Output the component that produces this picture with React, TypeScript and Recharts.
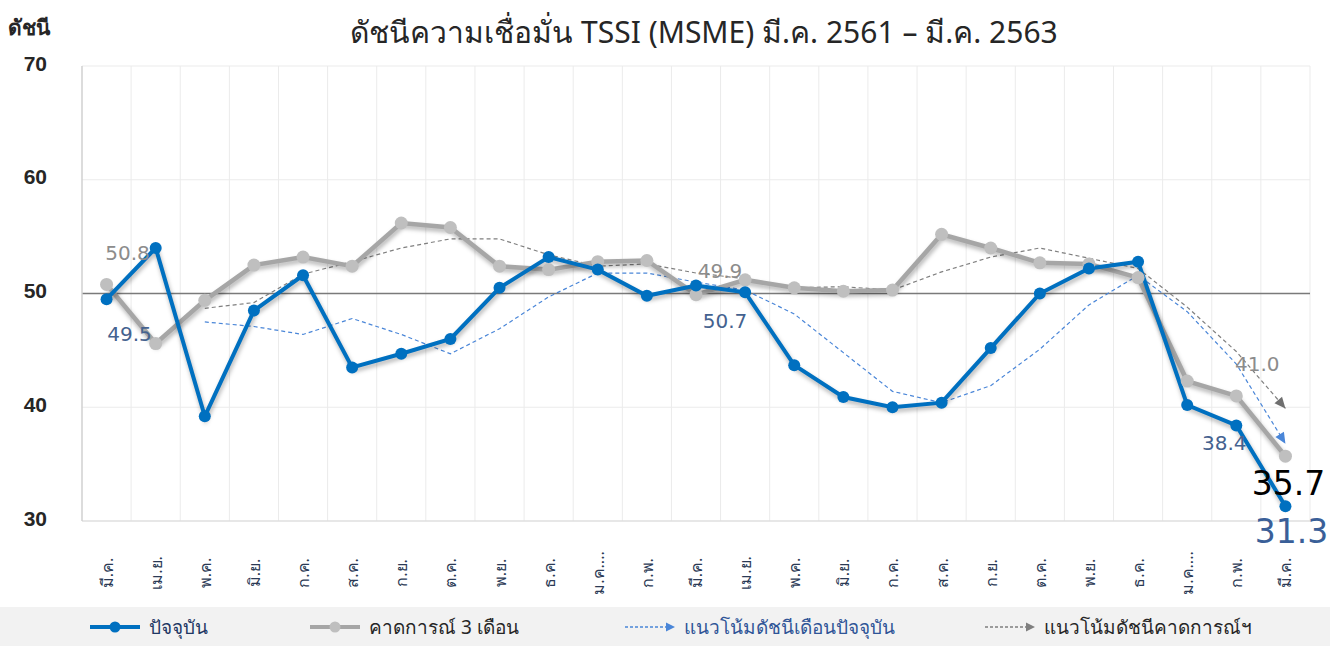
import React from 'react';
import { LineChart, Line, XAxis, YAxis, CartesianGrid, ReferenceLine, LabelList } from 'recharts';

const months = ['มี.ค.','เม.ย.','พ.ค.','มิ.ย.','ก.ค.','ส.ค.','ก.ย.','ต.ค.','พ.ย.','ธ.ค.','ม.ค....','ก.พ.','มี.ค.','เม.ย.','พ.ค.','มิ.ย.','ก.ค.','ส.ค.','ก.ย.','ต.ค.','พ.ย.','ธ.ค.','ม.ค....','ก.พ.','มี.ค.'];
const current = [49.5,54.0,39.2,48.5,51.6,43.5,44.7,46.0,50.5,53.2,52.1,49.8,50.7,50.1,43.7,40.9,40.0,40.4,45.2,50.0,52.2,52.8,40.2,38.4,31.3];
const expected = [50.8,45.6,49.4,52.5,53.2,52.4,56.2,55.8,52.4,52.1,52.8,52.9,49.9,51.2,50.5,50.2,50.3,55.2,54.0,52.7,52.6,51.4,42.3,41.0,35.7];
const currentTrend = [null,null,47.5,47.1,46.4,47.8,46.4,44.7,46.9,49.7,51.8,51.8,51.0,50.3,48.2,44.8,41.4,40.4,41.9,45.1,49.0,51.6,48.4,43.8,36.8];
const expectedTrend = [null,null,48.7,49.2,51.7,52.8,54.0,54.8,54.8,53.4,52.4,52.6,51.8,51.3,50.5,50.6,50.3,51.9,53.2,54.0,53.1,52.2,48.8,44.9,39.9];
const yTicks = [30, 40, 50, 60, 70];

const title = 'ดัชนีความเชื่อมั่น TSSI (MSME) มี.ค. 2561 – มี.ค. 2563';
const yTitle = 'ดัชนี';
const legendNames = ['ปัจจุบัน', 'คาดการณ์ 3 เดือน', 'แนวโน้มดัชนีเดือนปัจจุบัน', 'แนวโน้มดัชนีคาดการณ์ฯ'];

const data = months.map((m, i) => ({
  month: m,
  current: current[i],
  expected: expected[i],
  currentTrend: currentTrend[i],
  expectedTrend: expectedTrend[i],
}));

const CHART_W = 1340;
const MARGIN_R = 30;
const Y_W = 82;
const HALF_BAND = (CHART_W - MARGIN_R - Y_W) / months.length / 2;

const BLUE = '#0070c0';
const GRAY_LINE = '#a6a6a6';
const GRAY_DOT = '#bfbfbf';
const BLUE_TREND = '#4a86d8';
const GRAY_TREND = '#7f7f7f';
const NUM_FONT = '"DejaVu Sans", sans-serif';

// label style/offset per point index (layout only)
const blueLabelCfg: Record<number, { dx: number; dy: number; size: number; color: string }> = {
  0: { dx: 23, dy: 35, size: 20, color: '#44628f' },
  12: { dx: 29, dy: 35, size: 20, color: '#44628f' },
  23: { dx: -12, dy: 18, size: 20, color: '#44628f' },
  24: { dx: 6, dy: 25, size: 33, color: '#3a5f98' },
};
const grayLabelCfg: Record<number, { dx: number; dy: number; size: number; color: string }> = {
  0: { dx: 21, dy: -31, size: 20, color: '#8c8c8c' },
  12: { dx: 24, dy: -24, size: 20, color: '#8c8c8c' },
  23: { dx: 21, dy: -32, size: 20, color: '#8c8c8c' },
  24: { dx: 3, dy: 27, size: 33, color: '#000000' },
};

const makeLabel = (cfg: Record<number, { dx: number; dy: number; size: number; color: string }>) => (props: any) => {
  const { x, y, value, index } = props;
  const c = cfg[index];
  if (!c || x == null || y == null) return null;
  return (
    <text x={x + c.dx} y={y + c.dy} textAnchor="middle" dominantBaseline="central"
      fontFamily={NUM_FONT} fontSize={c.size} fill={c.color}>
      {Number(value).toFixed(1)}
    </text>
  );
};

const makeArrowDot = (color: string, last: number) => (props: any) => {
  const { cx, cy, index, points } = props;
  if (index !== last || cx == null || cy == null) return <g key={`d-${index}`} />;
  let ang = Math.PI / 2;
  const prev = points && points[index - 1];
  if (prev && prev.x != null && prev.y != null) ang = Math.atan2(cy - prev.y, cx - prev.x);
  const L = 11, W = 5;
  const cos = Math.cos(ang), sin = Math.sin(ang);
  const bx = cx - L * cos, by = cy - L * sin;
  const p = `${cx},${cy} ${bx - W * sin},${by + W * cos} ${bx + W * sin},${by - W * cos}`;
  return <polygon key={`d-${index}`} points={p} fill={color} />;
};

const XTick = (props: any) => {
  const { x, y, payload } = props;
  return (
    <g transform={`translate(${x},${y + 44})`}>
      <text transform="rotate(-90)" textAnchor="middle" dominantBaseline="central"
        fontFamily='"Noto Sans", sans-serif' fontSize={16} fill="#2b3a55">
        {payload.value}
      </text>
    </g>
  );
};

const YTick = (props: any) => {
  const { x, y, payload } = props;
  return (
    <text x={x} y={y - 3} textAnchor="end" dominantBaseline="central"
      fontFamily='"Liberation Sans", Arial, sans-serif' fontWeight="bold" fontSize={21} fill="#262626">
      {payload.value}
    </text>
  );
};

const LegendIcon = ({ kind }: { kind: number }) => {
  if (kind === 0 || kind === 1) {
    const col = kind === 0 ? BLUE : GRAY_LINE;
    const dot = kind === 0 ? BLUE : GRAY_DOT;
    return (
      <svg width={52} height={14}>
        <line x1={1} y1={7} x2={51} y2={7} stroke={col} strokeWidth={4} />
        <circle cx={26} cy={7} r={5.5} fill={dot} />
      </svg>
    );
  }
  const col = kind === 2 ? BLUE_TREND : GRAY_TREND;
  return (
    <svg width={52} height={14}>
      <line x1={1} y1={7} x2={43} y2={7} stroke={col} strokeWidth={1.3} strokeDasharray="3 2" />
      <polygon points="51,7 42,2.5 42,11.5" fill={col} />
    </svg>
  );
};

const legendItems = [
  { left: 89, color: '#1f3864' },
  { left: 309, color: '#262626' },
  { left: 624, color: '#2f5597' },
  { left: 984, color: '#262626' },
];

export default function App() {
  const last = months.length - 1;
  return (
    <div style={{ position: 'absolute', left: 0, top: 0, width: 1340, height: 646, background: '#ffffff', overflow: 'hidden' }}>
      <style>{`.shadowed { filter: drop-shadow(1px 3px 2px rgba(0,0,0,0.3)); }`}</style>
      <div style={{ position: 'absolute', left: 0, top: 9, width: 1408, textAlign: 'center', fontFamily: '"Noto Sans", sans-serif', fontSize: 30, color: '#262626', whiteSpace: 'nowrap' }}>
        {title}
      </div>
      <div style={{ position: 'absolute', left: 8, top: 11, fontFamily: '"Noto Sans", sans-serif', fontWeight: 'bold', fontSize: 21, color: '#262626' }}>
        {yTitle}
      </div>
      <div style={{ position: 'absolute', left: 0, top: 0 }}>
        <LineChart width={CHART_W} height={600} data={data} margin={{ top: 66, right: MARGIN_R, bottom: 0, left: 0 }}>
          <CartesianGrid stroke="#ebebeb" strokeWidth={1}
            horizontalValues={[30, 40, 60, 70]}
            verticalCoordinatesGenerator={({ offset }: any) => {
              const arr: number[] = [];
              const n = months.length;
              for (let i = 1; i <= n; i++) arr.push(offset.left + (i * offset.width) / n);
              return arr;
            }} />
          <XAxis dataKey="month" interval={0} height={79} padding={{ left: HALF_BAND, right: HALF_BAND }}
            tickLine={false} axisLine={{ stroke: '#d9d9d9' }} tick={<XTick />} />
          <YAxis domain={[30, 70]} ticks={yTicks} width={Y_W} tickLine={false} tickMargin={29} axisLine={{ stroke: '#d0d0d0', strokeWidth: 1.5 }} tick={<YTick />} />
          <ReferenceLine y={50} stroke="#7a7a7a" strokeWidth={1.5} />
          <Line dataKey="currentTrend" stroke={BLUE_TREND} strokeWidth={1.2} strokeDasharray="4 3" isAnimationActive={false}
            dot={makeArrowDot(BLUE_TREND, last)} activeDot={false} connectNulls={false} />
          <Line dataKey="expectedTrend" stroke={GRAY_TREND} strokeWidth={1.2} strokeDasharray="4 3" isAnimationActive={false}
            dot={makeArrowDot('#6f6f6f', last)} activeDot={false} connectNulls={false} />
          <Line className="shadowed" dataKey="expected" stroke={GRAY_LINE} strokeWidth={4.5} isAnimationActive={false}
            dot={{ r: 6.5, fill: GRAY_DOT, stroke: GRAY_DOT, strokeWidth: 0 }} activeDot={false}>
            <LabelList dataKey="expected" content={makeLabel(grayLabelCfg)} />
          </Line>
          <Line className="shadowed" dataKey="current" stroke={BLUE} strokeWidth={4} isAnimationActive={false}
            dot={{ r: 6, fill: BLUE, stroke: BLUE, strokeWidth: 0 }} activeDot={false}>
            <LabelList dataKey="current" content={makeLabel(blueLabelCfg)} />
          </Line>
        </LineChart>
      </div>
      <div style={{ position: 'absolute', left: 0, top: 607, width: 1330, height: 39, background: '#f2f2f2' }}>
        {legendItems.map((it, i) => (
          <div key={i} style={{ position: 'absolute', left: it.left, top: 0, height: 39, display: 'flex', alignItems: 'center', gap: 8 }}>
            <LegendIcon kind={i} />
            <span style={{ fontFamily: '"Noto Sans", sans-serif', fontSize: 19, color: it.color, whiteSpace: 'nowrap' }}>{legendNames[i]}</span>
          </div>
        ))}
      </div>
    </div>
  );
}
